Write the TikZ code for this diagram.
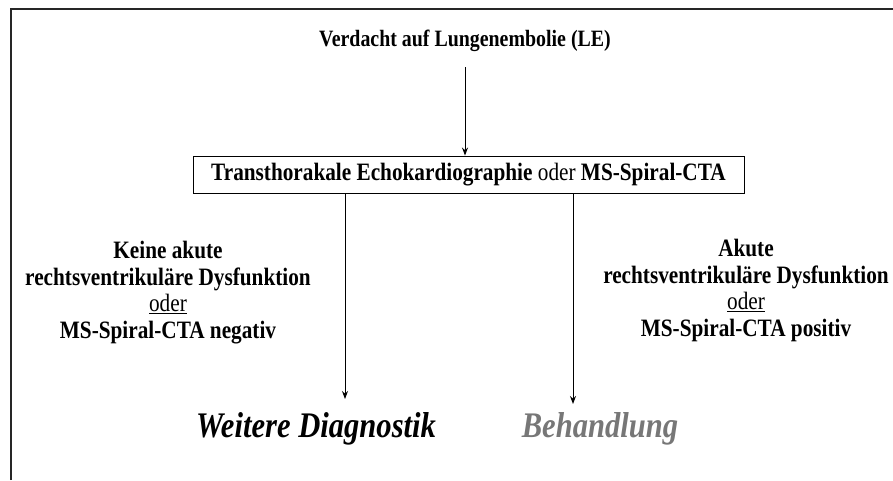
\documentclass[tikz,border=0pt]{standalone}
\usepackage{fontspec}
\setmainfont{Liberation Serif}[FakeStretch=0.85]
\usetikzlibrary{arrows.meta}
\definecolor{behgray}{HTML}{777777}
\tikzset{
  arr/.style={draw=black, line width=1pt, -{Stealth[length=8pt,width=6pt]}},
  frameline/.style={draw=black!85, line width=1.4pt},
  titletxt/.style={font=\bfseries\fontsize{23.4}{26}\selectfont, inner sep=0pt},
  boxnode/.style={draw=black, line width=0.9pt, minimum width=551pt, minimum height=37pt, inner sep=0pt, font=\fontsize{25}{28}\selectfont},
  lbl/.style={align=center, inner sep=0pt, font=\bfseries\fontsize{25}{26.5}\selectfont},
  bigtxt/.style={inner sep=0pt, font=\bfseries\itshape\fontsize{36}{40}\selectfont}
}
\begin{document}
\begin{tikzpicture}[x=1pt,y=-1pt]
\useasboundingbox (0,0) rectangle (893,480);
\coordinate (fa) at (11,480);
\coordinate (fb) at (11,9);
\coordinate (fc) at (893,9);
\draw[frameline] (fa) -- (fb) -- (fc);
\node[titletxt, anchor=base] (title) at (465,46) {Verdacht auf Lungenembolie (LE)};
\node[boxnode] (box) at (468.5,174.5) {\textbf{Transthorakale Echokardiographie} oder \textbf{MS-Spiral-CTA}};
\node[lbl, anchor=north] (left) at (168,241) {Keine akute\\rechtsventrikuläre Dysfunktion\\\mdseries\underline{oder}\\MS-Spiral-CTA negativ};
\node[lbl, anchor=north] (right) at (746,239) {Akute\\rechtsventrikuläre Dysfunktion\\\mdseries\underline{oder}\\MS-Spiral-CTA positiv};
\node[bigtxt, anchor=base] (weitere) at (316,437) {Weitere Diagnostik};
\node[bigtxt, anchor=base, text=behgray] (beh) at (600,437) {Behandlung};
\coordinate (t1) at (465,67);
\coordinate (l0) at (345,193);
\coordinate (l1) at (345,399);
\coordinate (r0) at (573,193);
\coordinate (r1) at (573,404);
\draw[arr] (t1) -- (t1 |- box.north);
\draw[arr] (l0) -- (l1);
\draw[arr] (r0) -- (r1);
\end{tikzpicture}
\end{document}
